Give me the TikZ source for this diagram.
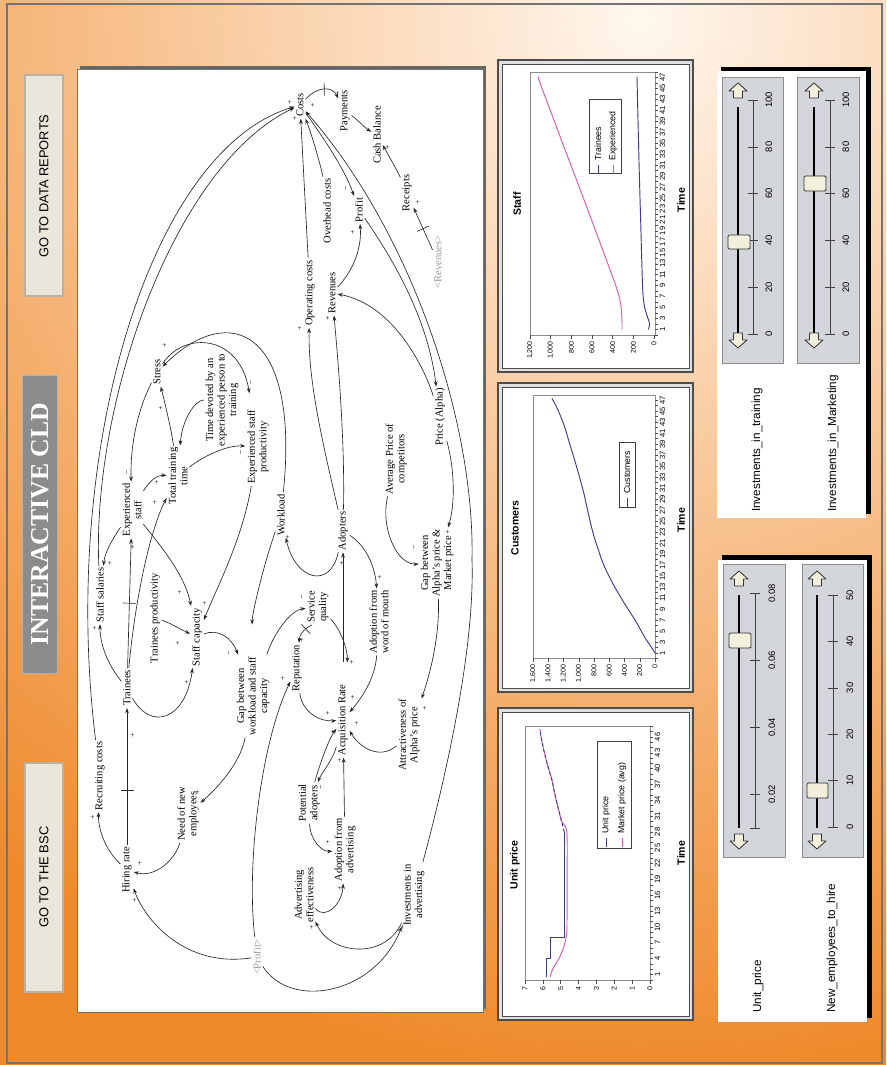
\documentclass[tikz,border=0pt]{standalone}
\usepackage{fontspec}
\setmainfont{Liberation Serif}
\setsansfont{Liberation Sans}
\usetikzlibrary{arrows.meta,shadings}
\definecolor{bgin}{HTML}{FFF7EE}
\definecolor{bgout}{HTML}{EF8A2C}
\definecolor{navyline}{HTML}{3C3C8C}
\definecolor{pinkline}{HTML}{D25AB0}
\definecolor{btnface}{HTML}{E9E7DC}
\definecolor{btnedge}{HTML}{B9B2A2}
\definecolor{slbox}{HTML}{D2D5DA}
\definecolor{knobface}{HTML}{F2EFDC}
\tikzset{
  cld/.style={rotate=90,font=\fontsize{9}{9.8}\selectfont,align=center,inner sep=1.5pt},
  ghost/.style={cld,text=black!40},
  sg/.style={rotate=90,font=\fontsize{6.5}{6.5}\selectfont,inner sep=0pt},
  ar/.style={draw=black!85,line width=0.55pt,-{Stealth[length=4.5pt,width=3.2pt]}},
  dm/.style={sloped,minimum height=0.39cm,minimum width=0pt,inner sep=0pt,outer sep=0pt},
  dmline/.style={draw=black!85,line width=0.55pt},
  pnl/.style={fill=black!12,draw=black!70,line width=0.9pt},
  pnlin/.style={fill=white,draw=black!70,line width=0.6pt},
  pframe/.style={draw=black!45,line width=0.5pt},
  tk/.style={draw=black!70,line width=0.4pt},
  ctitle/.style={rotate=90,font=\sffamily\bfseries\fontsize{9}{9}\selectfont,inner sep=1pt},
  ylab/.style={rotate=90,anchor=east,font=\sffamily\fontsize{6}{6}\selectfont,inner sep=1pt},
  tlab/.style={rotate=90,anchor=north,font=\sffamily\fontsize{6.5}{6.5}\selectfont,inner sep=0.5pt},
  lgd/.style={draw=black!75,line width=0.6pt,fill=white},
  ltxt/.style={rotate=90,anchor=west,font=\sffamily\fontsize{7.5}{7.5}\selectfont,inner sep=1pt},
  curveA/.style={navyline,line width=0.8pt},
  curveB/.style={pinkline,line width=0.8pt},
  sbox/.style={fill=slbox,draw=black!45,line width=0.5pt},
  track/.style={draw=black,line width=1.6pt},
  sscale/.style={draw=black!75,line width=0.5pt},
  slab/.style={rotate=90,font=\sffamily\fontsize{8}{8}\selectfont,inner sep=0pt},
  knob/.style={fill=knobface,draw=black!80,line width=0.8pt,rounded corners=1pt},
  sarrow/.style={fill=knobface,draw=black!80,line width=0.7pt,line join=round},
  slcap/.style={rotate=90,anchor=west,font=\sffamily\fontsize{10}{10}\selectfont,inner sep=0pt},
  btntext/.style={rotate=90,font=\sffamily\fontsize{11}{11}\selectfont},
  sldup/.pic={\draw[sarrow] (0,0) -- (9,8) -- (4.5,8) -- (4.5,15) -- (-4.5,15) -- (-4.5,8) -- (-9,8) -- cycle;},
  slddown/.pic={\draw[sarrow] (0,0) -- (9,-8) -- (4.5,-8) -- (4.5,-15) -- (-4.5,-15) -- (-4.5,-8) -- (-9,-8) -- cycle;},
}
\begin{document}
\begin{tikzpicture}[x=0.03cm,y=-0.03cm]
\useasboundingbox (0,0) rectangle (886,1065);
% background: warm radial glow, brightest near the top edge
\begin{scope}
  \clip (0,0) rectangle (886,1065);
  \fill[bgout] (0,0) rectangle (886,1065);
  \shade[inner color=bgin,outer color=bgout] (640,20) circle (1050);
\end{scope}
\draw[black!55,line width=1pt] (7,4) rectangle (882,1063);

% header: buttons and title
\draw[fill=btnface,draw=btnedge,line width=1pt] (25,75) rectangle (63,296);
\node[btntext] (btnrep) at (44,186) {GO TO DATA REPORTS};
\draw[fill=btnface,draw=btnedge,line width=1pt] (25,763) rectangle (63,992);
\node[btntext] (btnbsc) at (44,877) {GO TO THE BSC};
\draw[fill=black!45,draw=black!30,line width=0.8pt] (22,375) rectangle (57,673);
\node[rotate=90,text=white,font=\bfseries\fontsize{22}{22}\selectfont] (title) at (40.5,524) {INTERACTIVE CLD};

% CLD canvas
\fill[black!60] (80,66) rectangle (486,1009);
\draw[fill=white,draw=black!55,line width=0.6pt] (77,69) rectangle (483,1012);

% ---- variables ----
\node[cld] (costs) at (300,105) {Costs};
\node[cld] (pay) at (345,111) {Payments};
\node[cld] (cash) at (377,135) {Cash Balance};
\node[cld] (rec) at (407,193) {Receipts};
\node[ghost] (revx) at (438,262) {\textless Revenues\textgreater};
\node[cld] (ovh) at (327,211) {Overhead costs};
\node[cld] (profit) at (359,210) {Profit};
\node[cld] (rev) at (332,293) {Revenues};
\node[cld] (opc) at (310,293) {Operating costs};
\node[cld] (stress) at (157,372) {Stress};
\node[cld] (tdev) at (222,400) {Time devoted by an\\experienced person to\\training};
\node[cld] (esp) at (258,447) {Experienced staff\\productivity};
\node[cld] (exps) at (132,510) {Experienced\\staff};
\node[cld] (ttt) at (178,476) {Total training\\time};
\node[cld] (ssal) at (100,595) {Staff salaries};
\node[cld] (tprod) at (155,618) {Trainees productivity};
\node[cld] (scap) at (197,637) {Staff capacity};
\node[cld] (workload) at (281,515) {Workload};
\node[cld] (trainees) at (127,688) {Trainees};
\node[cld] (gap) at (253,696) {Gap between\\workload and staff\\capacity};
\node[cld] (need) at (188,814) {Need of new\\employees};
\node[cld] (hire) at (127,870) {Hiring rate};
\node[cld] (recr) at (100,776) {Recruiting costs};
\node[cld] (adopters) at (343,531) {Adopters};
\node[cld] (squal) at (318,607) {Service\\quality};
\node[cld] (awom) at (379,622) {Adoption from\\word of mouth};
\node[cld] (avgp) at (396,459) {Average Price of\\competitors};
\node[cld] (price) at (440,417) {Price (Alpha)};
\node[cld] (gapa) at (437,563) {Gap between\\Alpha's price \&\\Market price};
\node[cld] (rep) at (297,668) {Reputation};
\node[cld] (acq) at (343,720) {Acquisition Rate};
\node[cld] (attr) at (409,735) {Attractiveness of\\Alpha's price};
\node[cld] (pot) at (309,803) {Potential\\adopters};
\node[cld] (adv) at (345,850) {Adoption from\\advertising};
\node[cld] (adve) at (304,895) {Advertising\\effectiveness};
\node[cld] (inv) at (414,895) {Investments in\\advertising};
\node[ghost] (profx) at (257,957) {\textless Profit\textgreater};

% ---- links ----
\draw[ar] (recr) .. controls (60,450) and (150,150) .. (costs);
\draw[ar] (ssal) .. controls (92,400) and (175,165) .. (costs);
\draw[ar] (opc) -- (costs);
\draw[ar] (ovh) .. controls (322,170) and (312,135) .. (costs);
\draw[ar] (inv) .. controls (445,780) and (475,650) .. (472,560) .. controls (475,420) and (410,230) .. (costs);
\draw[ar] (costs) .. controls (318,86) and (332,86) .. node[dm,pos=.5] (d3) {} (pay);
\draw[dmline] (d3.north) -- (d3.south);
\draw[ar] (costs) .. controls (325,140) and (345,170) .. (profit);
\draw[ar] (pay) .. controls (358,120) and (365,128) .. (cash);
\draw[ar] (rec) .. controls (398,172) and (390,158) .. (cash);
\draw[ar] (revx) -- node[dm,pos=.5] (d4) {} (rec);
\draw[dmline] (d4.north) -- (d4.south);
\draw[ar] (rev) .. controls (352,272) and (362,250) .. (profit);
\draw[ar] (profit) .. controls (395,262) and (428,320) .. (price);
\draw[ar] (price) .. controls (425,370) and (395,305) .. (rev);
\draw[ar] (adopters) .. controls (322,440) and (308,380) .. (opc);
\draw[ar] (adopters) .. controls (345,440) and (338,360) .. (rev);
\draw[ar] (adopters) .. controls (330,590) and (295,580) .. (workload);
\draw[ar] (adopters) .. controls (365,545) and (375,565) .. (awom);
\draw[ar,shorten <=0.6cm] (acq) -- (adopters);
\draw[ar] (workload) .. controls (300,330) and (230,300) .. (stress);
\draw[ar,shorten >=0.9cm] (workload) .. controls (262,570) and (252,615) .. (gap);
\draw[ar,shorten >=0.45cm] (stress) .. controls (185,330) and (240,335) .. (esp);
\draw[ar] (stress) .. controls (140,405) and (130,440) .. (exps);
\draw[ar] (ttt) .. controls (172,435) and (168,415) .. (stress);
\draw[ar] (tdev) .. controls (195,400) and (182,420) .. (ttt);
\draw[ar] (ttt) .. controls (205,455) and (228,445) .. (esp);
\draw[ar] (exps) .. controls (150,480) and (158,475) .. (ttt);
\draw[ar] (trainees) .. controls (135,600) and (150,530) .. (ttt);
\draw[ar] (trainees) -- node[dm,pos=.5] (d2) {} (exps);
\draw[dmline] (d2.north) -- (d2.south);
\draw[ar] (hire) -- node[dm,pos=.4] (d1) {} (trainees);
\draw[dmline] (d1.north) -- (d1.south);
\draw[ar] (exps) .. controls (112,540) and (105,552) .. (ssal);
\draw[ar] (trainees) .. controls (108,665) and (100,645) .. (ssal);
\draw[ar] (hire) .. controls (105,850) and (98,828) .. (recr);
\draw[ar] (need) .. controls (175,860) and (155,878) .. (hire);
\draw[ar] (gap) .. controls (240,765) and (215,790) .. (need);
\draw[ar] (scap) .. controls (218,628) and (232,638) .. (gap);
\draw[ar] (esp) .. controls (242,540) and (218,585) .. (scap);
\draw[ar] (exps) .. controls (160,545) and (185,575) .. (scap);
\draw[ar] (tprod) .. controls (168,622) and (178,628) .. (scap);
\draw[ar] (trainees) .. controls (150,730) and (185,722) .. (scap);
\draw[ar] (gap) .. controls (275,630) and (292,610) .. (squal);
\draw[ar] (squal) .. controls (312,625) and (300,630) .. node[dm,pos=.5] (d5) {} (rep);
\draw[dmline] (d5.north) -- (d5.south);
\draw[ar,shorten >=0.6cm] (squal) .. controls (340,628) and (348,650) .. (acq);
\draw[ar] (rep) .. controls (302,712) and (320,722) .. (acq);
\draw[ar] (pot) .. controls (318,770) and (328,740) .. (acq);
\draw[ar] (acq) .. controls (333,760) and (322,772) .. (pot);
\draw[ar] (pot) .. controls (310,840) and (322,852) .. (adv);
\draw[ar] (adv) -- (acq);
\draw[ar] (adve) .. controls (325,920) and (342,905) .. (adv);
\draw[ar] (attr) .. controls (380,760) and (360,748) .. (acq);
\draw[ar] (awom) .. controls (375,680) and (360,700) .. (acq);
\draw[ar] (gapa) .. controls (440,640) and (428,680) .. (attr);
\draw[ar] (avgp) .. controls (380,530) and (398,565) .. (gapa);
\draw[ar] (price) .. controls (455,470) and (455,505) .. (gapa);
\draw[ar] (profx) .. controls (185,968) and (145,920) .. (hire);
\draw[ar] (profx) .. controls (246,860) and (262,740) .. (rep);
\draw[ar] (profx) .. controls (290,1010) and (375,995) .. (inv);
\draw[ar] (inv) .. controls (385,960) and (330,955) .. (adve);

% ---- polarities ----
\foreach \px/\py [count=\i] in {290/102,295/118,313/105,338/93,388/147,418/202,353/232,300/328,328/318,165/345,161/408,157/482,155/502,110/563,95/628,133/547,180/592,205/603,178/643,187/682,198/792,140/863,135/900,93/817,133/735,283/678,288/537,342/563,380/577,448/532,425/708,328/713,333/732,340/760,357/723,353/697,352/662,302/640,328/842,340/888,403/927,312/927}
  \node[sg] (pl\i) at (\px,\py) {+};
\foreach \px/\py [count=\i] in {347/188,252/382,242/452,128/472,230/653,303/597,415/547,322/787}
  \node[sg] (mn\i) at (\px,\py) {\textminus};

% ================= charts =================
% Staff
\draw[pnl] (498,60) rectangle (693,372);
\draw[pnlin] (502,64) rectangle (689,368);
\node[ctitle] (stT) at (517,204) {Staff};
\node[ctitle] (stX) at (681,200) {Time};
\draw[pframe] (530,72) rectangle (655,335);
\foreach \v/\l [count=\i] in {0/0,200/200,400/400,600/600,800/800,1000/{1,000},1200/{1,200}}{
  \draw[tk] ({654-0.10333*\v},335) -- ({654-0.10333*\v},339);
  \node[ylab] (sty\i) at ({654-0.10333*\v},340) {\l};}
\foreach \t [count=\i] in {1,3,...,47}
  \node[tlab] (stt\i) at (659,{335-5.48*\t}) {\t};
\foreach \t in {0,...,48} \draw[tk] (655,{335-5.48*\t}) -- (658,{335-5.48*\t});
\begin{scope}[shift={(654,335)},x={(0cm,0.1644cm)},y={(-0.0031cm,0cm)}]
  \draw[curveB] plot[smooth] coordinates {(1,310) (3,311) (5,318) (7,338) (9,370) (12,428) (15,487) (20,585) (25,684) (30,785) (35,886) (40,985) (45,1085) (47.2,1125)};
  \draw[curveA] plot[smooth] coordinates {(1,55) (2,42) (3,58) (5,90) (7,105) (10,113) (20,128) (30,143) (40,156) (47.2,165)};
\end{scope}
\draw[lgd] (589,99) rectangle (621,173);
\draw[curveA] (598,165) -- (598,174);
\node[ltxt] (stL1) at (598,162) {Trainees};
\draw[curveB] (613,165) -- (613,174);
\node[ltxt] (stL2) at (613,162) {Experienced};

% Customers
\draw[pnl] (498,383) rectangle (693,692);
\draw[pnlin] (502,387) rectangle (689,688);
\node[ctitle] (cuT) at (515,528) {Customers};
\node[ctitle] (cuX) at (681,520) {Time};
\draw[pframe] (533,395) rectangle (655,658);
\foreach \v/\l [count=\i] in {0/0,200/200,400/400,600/600,800/800,1000/{1,000},1200/{1,200},1400/{1,400},1600/{1,600}}{
  \draw[tk] ({655-0.07625*\v},658) -- ({655-0.07625*\v},662);
  \node[ylab] (cuy\i) at ({655-0.07625*\v},663) {\l};}
\foreach \t [count=\i] in {1,3,...,47}
  \node[tlab] (cut\i) at (659,{658.5-5.5*\t}) {\t};
\foreach \t in {0,...,47} \draw[tk] (655,{658.5-5.5*\t}) -- (658,{658.5-5.5*\t});
\begin{scope}[shift={(655,658.5)},x={(0cm,0.165cm)},y={(-0.0022875cm,0cm)}]
  \draw[curveA] plot[smooth] coordinates {(1,0) (2,45) (3,95) (4,140) (5,180) (7,262) (10,400) (13,528) (16,640) (18,700) (20,748) (22,796) (24,834) (26,868) (28,900) (30,932) (33,990) (36,1052) (39,1118) (42,1182) (44,1236) (46,1300) (47.3,1352)};
\end{scope}
\draw[lgd] (619,442) rectangle (635,507);
\draw[curveA] (627,498) -- (627,507);
\node[ltxt] (cuL1) at (627,495) {Customers};

% Unit price
\draw[pnl] (498,708) rectangle (693,1020);
\draw[pnlin] (502,712) rectangle (689,1016);
\node[ctitle] (upT) at (515,865) {Unit price};
\node[ctitle] (upX) at (681,853) {Time};
\draw[pframe] (525,726) rectangle (650,980);
\foreach \v [count=\i] in {0,...,7}{
  \draw[tk] ({650-17.86*\v},980) -- ({650-17.86*\v},984);
  \node[ylab] (upy\i) at ({650-17.86*\v},985) {\v};}
\foreach \t [count=\i] in {1,4,...,46}
  \node[tlab] (upt\i) at (654,{979.8-5.28*\t}) {\t};
\foreach \t in {0,...,48} \draw[tk] (650,{979.8-5.28*\t}) -- (653,{979.8-5.28*\t});
\begin{scope}[shift={(650,979.8)},x={(0cm,0.1584cm)},y={(-0.5358cm,0cm)}]
  \draw[curveB] plot[smooth] coordinates {(0.5,5.6) (2,5.45) (4,5.1) (6,4.85) (8,4.7) (10,4.65) (20,4.64) (28,4.66) (30,4.95) (32,5.1) (34,5.25) (36,5.38) (38,5.5) (40,5.68) (42,5.84) (44,5.98) (46,6.1) (47.5,6.16)};
  \draw[curveA] (0.5,5.8) -- (4,5.8) -- (4,5.55) -- (8,5.55) -- (8,4.8) -- (28,4.8);
  \draw[curveA,dash pattern=on 3pt off 2pt] plot[smooth] coordinates {(28,4.8) (30,4.95) (32,5.1) (34,5.25) (36,5.38) (38,5.5) (40,5.68) (42,5.84) (44,5.98) (46,6.1) (47.5,6.16)};
\end{scope}
\draw[lgd] (597,741) rectangle (631,848);
\draw[curveA] (606,838) -- (606,847);
\node[ltxt] (upL1) at (606,835) {Unit price};
\draw[curveB] (622,838) -- (622,847);
\node[ltxt] (upL2) at (622,835) {Market price (avg)};

% ================= sliders =================
\fill[black] (721,67) rectangle (871,514);
\fill[white] (717,71) rectangle (866,518);
% Investments_in_training
\draw[sbox] (722,77) rectangle (783,363);
\draw[track] (738,107) -- (738,333);
\draw[sscale] (753,100) -- (753,334);
\foreach \v [count=\i] in {0,20,...,100}{
  \draw[sscale] (748,{334-2.34*\v}) -- (758,{334-2.34*\v});
  \node[slab] (sa\i) at (769,{334-2.34*\v}) {\v};}
\pic at (738,83) {sldup};
\pic at (738,348) {slddown};
\draw[knob] (728,235) rectangle (750,249);
\node[slcap] (capA) at (757,512) {Investments\_in\_training};
% Investments_in_Marketing
\draw[sbox] (797,77) rectangle (859,363);
\draw[track] (814,107) -- (814,333);
\draw[sscale] (830,100) -- (830,334);
\foreach \v [count=\i] in {0,20,...,100}{
  \draw[sscale] (825,{334-2.34*\v}) -- (835,{334-2.34*\v});
  \node[slab] (sb\i) at (846,{334-2.34*\v}) {\v};}
\pic at (814,83) {sldup};
\pic at (814,348) {slddown};
\draw[knob] (804,176) rectangle (826,191);
\node[slcap] (capB) at (833,512) {Investments\_in\_Marketing};

\fill[black] (722,555) rectangle (872,1018);
\fill[white] (718,560) rectangle (867,1022);
% Unit_price
\draw[sbox] (723,564) rectangle (785,857);
\draw[track] (739,595) -- (739,828);
\draw[sscale] (755,594) -- (755,828);
\draw[sscale] (750,828) -- (760,828);
\foreach \v/\l [count=\i] in {1/0.02,2/0.04,3/0.06,4/0.08}{
  \draw[sscale] (750,{828-33.5*(2*\v-1)}) -- (760,{828-33.5*(2*\v-1)});
  \node[slab] (sc\i) at (772,{828-33.5*(2*\v-1)}) {\l};}
\pic at (739,571) {sldup};
\pic at (739,849) {slddown};
\draw[knob] (729,633) rectangle (751,648);
\node[slcap] (capC) at (758,1013) {Unit\_price};
% New_employees_to_hire
\draw[sbox] (802,564) rectangle (863,857);
\draw[track] (817,595) -- (817,828);
\draw[sscale] (833,595) -- (833,827);
\foreach \v [count=\i] in {0,10,...,50}{
  \draw[sscale] (828,{827-4.64*\v}) -- (838,{827-4.64*\v});
  \node[slab] (sd\i) at (850,{827-4.64*\v}) {\v};}
\pic at (817,571) {sldup};
\pic at (817,849) {slddown};
\draw[knob] (807,783) rectangle (828,798);
\node[slcap] (capD) at (832,1013) {New\_employees\_to\_hire};
\end{tikzpicture}
\end{document}
